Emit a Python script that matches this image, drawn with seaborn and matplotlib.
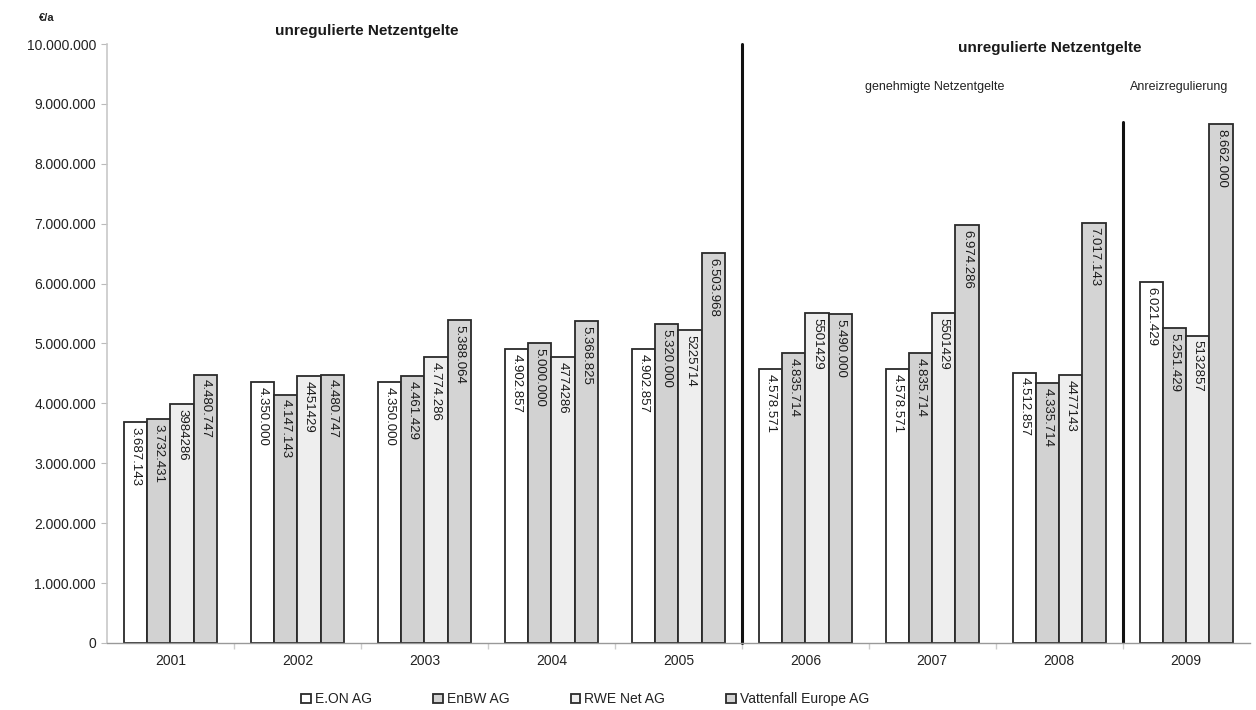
import matplotlib
matplotlib.use("Agg")
import matplotlib.pyplot as plt
import seaborn as sns
import pandas as pd
from matplotlib.ticker import FuncFormatter, FixedLocator

years = ["2001", "2002", "2003", "2004", "2005", "2006", "2007", "2008", "2009"]
companies = ["E.ON AG", "EnBW AG", "RWE Net AG", "Vattenfall Europe AG"]

eon = [3687143, 4350000, 4350000, 4902857, 4902857, 4578571, 4578571, 4512857, 6021429]
enbw = [3732431, 4147143, 4461429, 5000000, 5320000, 4835714, 4835714, 4335714, 5251429]
rwe = [3984286, 4451429, 4774286, 4774286, 5225714, 5501429, 5501429, 4477143, 5132857]
vattenfall = [4480747, 4480747, 5388064, 5368825, 6503968, 5490000, 6974286, 7017143, 8662000]

# RWE figures are printed without thousands separators, except for 2003
rwe_dotted = [False, False, True, False, False, False, False, False, False]

colors = ["#ffffff", "#d2d2d2", "#eeeeee", "#d4d4d4"]

series = [eon, enbw, rwe, vattenfall]
rows = []
for comp, vals in zip(companies, series):
    for yr, v in zip(years, vals):
        rows.append({"Jahr": yr, "Gesellschaft": comp, "Wert": v})
df = pd.DataFrame(rows)

sns.set_theme(style="white")
plt.rcParams["font.family"] = ["Liberation Sans", "DejaVu Sans"]

fig = plt.figure(figsize=(12.56, 7.10), dpi=100)
ax = fig.add_axes([0.0852, 0.0944, 0.9098, 0.8436])

sns.barplot(data=df, x="Jahr", y="Wert", hue="Gesellschaft", order=years,
            hue_order=companies, palette=colors, width=0.73, gap=0,
            edgecolor="#2a2a2a", linewidth=1.3, saturation=1, ax=ax)

ax.set_xlim(-0.5, len(years) - 0.5)
ax.set_ylim(0, 10_000_000)
ax.set_xlabel("")
ax.set_ylabel("")

dot = lambda v: f"{int(round(v)):,}".replace(",", ".")
ax.yaxis.set_major_locator(FixedLocator(range(0, 10_000_001, 1_000_000)))
ax.yaxis.set_major_formatter(FuncFormatter(lambda v, p: dot(v)))
ax.tick_params(axis="y", length=4, width=0.8, color="#bbbbbb", labelsize=10,
               labelcolor="#222222", pad=4, left=True)
ax.tick_params(axis="x", length=0, labelsize=10, labelcolor="#222222", pad=8)
ax.set_xticks(range(len(years)), minor=False)
ax.set_xticks([i - 0.5 for i in range(1, len(years))], minor=True)
ax.tick_params(axis="x", which="minor", length=4, color="#cccccc", bottom=True)

for side in ["top", "right"]:
    ax.spines[side].set_visible(False)
ax.spines["left"].set_color("#c8c8c8")
ax.spines["left"].set_linewidth(1.2)
ax.spines["bottom"].set_color("#999999")
ax.spines["bottom"].set_linewidth(1.0)

# value labels written downwards inside each bar
for ci, cont in enumerate(ax.containers):
    for yi, patch in enumerate(cont.patches):
        v = patch.get_height()
        if ci == 2 and not rwe_dotted[yi]:
            txt = str(int(round(v)))
        else:
            txt = dot(v)
        ax.text(patch.get_x() + patch.get_width() / 2, v - 80_000, txt,
                rotation=270, ha="center", va="top", fontsize=9.5,
                color="#1a1a1a")

# regulation period separators
ax.plot([4.5, 4.5], [0, 10_000_000], color="#111111", lw=2.2, clip_on=False)
ax.plot([7.5, 7.5], [0, 8_700_000], color="#111111", lw=2.2)

fig.text(0.037, 0.975, "€/a", fontsize=8, fontweight="bold", ha="center",
         va="center", color="#222222")
fig.text(0.292, 0.957, "unregulierte Netzentgelte", fontsize=11,
         fontweight="bold", ha="center", va="center", color="#1a1a1a")
fig.text(0.836, 0.932, "unregulierte Netzentgelte", fontsize=11,
         fontweight="bold", ha="center", va="center", color="#1a1a1a")
fig.text(0.744, 0.877, "genehmigte Netzentgelte", fontsize=9,
         ha="center", va="center", color="#222222")
fig.text(0.9, 0.877, "Anreizregulierung", fontsize=9,
         ha="left", va="center", color="#222222")

handles, labels = ax.get_legend_handles_labels()
ax.legend_.remove()
fig.legend(handles, labels, loc="center", bbox_to_anchor=(0.466, 0.015),
           ncol=4, frameon=False, fontsize=10, handlelength=0.7,
           handleheight=0.7, handletextpad=0.3, columnspacing=4.4,
           labelcolor="#222222")

fig.savefig("out.png", dpi=100, facecolor="white")
